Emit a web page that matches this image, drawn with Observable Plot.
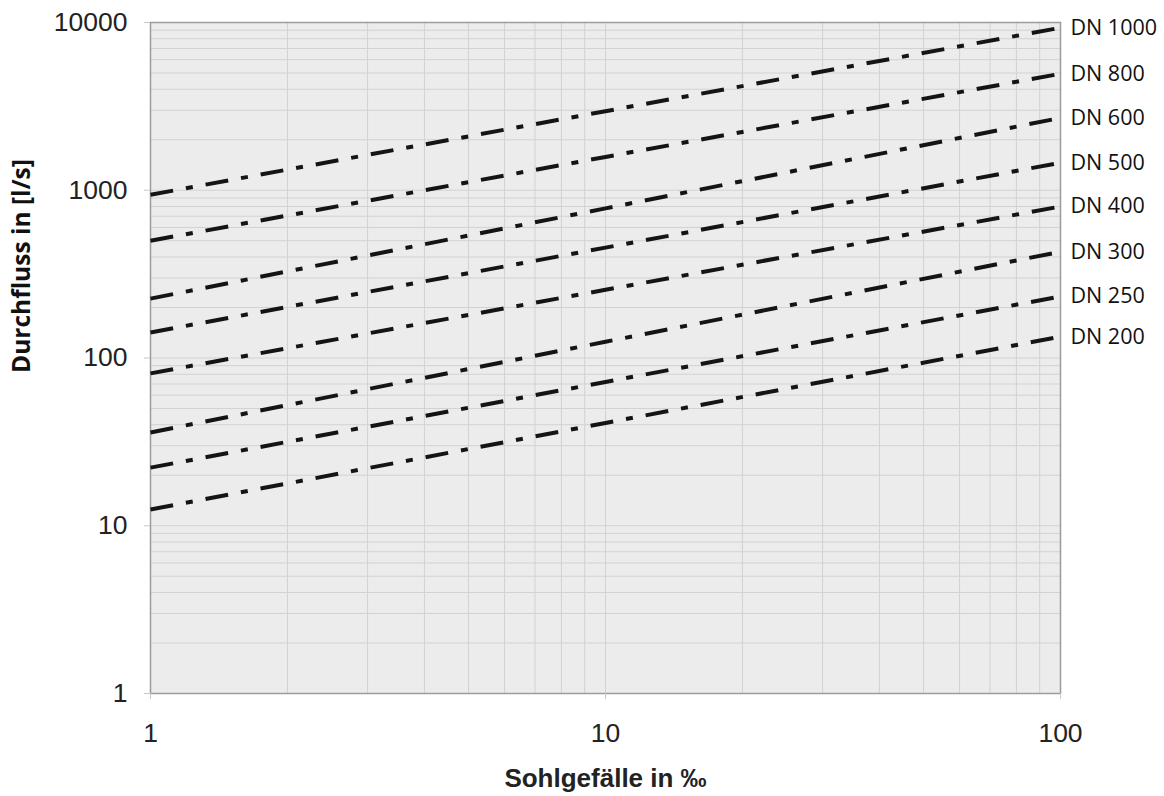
<!DOCTYPE html>
<html>
<head>
<meta charset="utf-8">
<script src="https://cdn.jsdelivr.net/npm/d3@7"></script>
<script src="https://cdn.jsdelivr.net/npm/@observablehq/plot@0.6"></script>
<style>
  html, body { margin: 0; padding: 0; background: #fff; }
</style>
</head>
<body>
<div id="chart"></div>
<script>
// Slopes (Sohlgefälle in ‰) at which the flow values were read
const slopes = [1, 10, 100];

// Flow (Durchfluss in l/s) per pipe diameter
const dn1000 = [940, 2960, 9300];
const dn800  = [500, 1580, 4950];
const dn600  = [226, 780, 2700];
const dn500  = [142, 455, 1460];
const dn400  = [81, 255, 800];
const dn300  = [36, 125, 430];
const dn250  = [22.2, 72, 233];
const dn200  = [12.5, 41, 134];

const diameters = ["DN 1000", "DN 800", "DN 600", "DN 500", "DN 400", "DN 300", "DN 250", "DN 200"];
const flows = [dn1000, dn800, dn600, dn500, dn400, dn300, dn250, dn200];

// Axis ticks
const xTicks = [1, 10, 100];
const yTicks = [1, 10, 100, 1000, 10000];
const xGrid = [2, 3, 4, 5, 6, 7, 8, 9, 10, 20, 30, 40, 50, 60, 70, 80, 90];
const yGrid = [2, 3, 4, 5, 6, 7, 8, 9, 10, 20, 30, 40, 50, 60, 70, 80, 90, 100,
               200, 300, 400, 500, 600, 700, 800, 900, 1000,
               2000, 3000, 4000, 5000, 6000, 7000, 8000, 9000];

const xTitle = "Sohlgefälle in ‰";
const yTitle = "Durchfluss in [l/s]";

const rows = diameters.flatMap((dn, j) => slopes.map((s, i) => ({dn, s, q: flows[j][i]})));

const chart = Plot.plot({
  width: 1164,
  height: 796,
  marginLeft: 150,
  marginRight: 104,
  marginTop: 22,
  marginBottom: 103,
  style: {fontFamily: "'Liberation Sans', Arial, sans-serif", background: "#fff", color: "#222"},
  x: {type: "log", domain: [1, 100]},
  y: {type: "log", domain: [1, 10000]},
  marks: [
    Plot.frame({fill: "#ececec", stroke: null}),
    Plot.ruleX(xGrid, {stroke: "#d2d2d2", strokeWidth: 1}),
    Plot.ruleY(yGrid, {stroke: "#d2d2d2", strokeWidth: 1}),
    Plot.frame({stroke: "#9c9c9c", strokeWidth: 1.5}),
    Plot.axisX({ticks: xTicks, tickFormat: d => String(d), fontSize: 26.5, tickSize: 6, tickPadding: 24,
                stroke: "#c8c8c8", fill: "#222", label: null}),
    Plot.axisY({ticks: yTicks, tickFormat: d => String(d), fontSize: 26.5, tickSize: 6, tickPadding: 17,
                stroke: "#c8c8c8", fill: "#222", label: null}),
    Plot.line(rows, {x: "s", y: "q", z: "dn", stroke: "#141414", strokeWidth: 4,
                     strokeDasharray: "23,13,7,13", strokeLinecap: "butt"}),
    Plot.text(rows, Plot.selectLast({x: "s", y: "q", z: "dn", text: "dn", textAnchor: "start", dx: 10,
                     fontSize: 21.5, fontFamily: "'Open Sans', 'Noto Sans', sans-serif", fill: "#111"})),
    Plot.text([yTitle], {frameAnchor: "left", textAnchor: "middle", lineAnchor: "middle", rotate: -90,
                     dx: -128, dy: -92, fontSize: 24.5,
                     fontWeight: "bold", fontFamily: "'Open Sans', 'Noto Sans', sans-serif", fill: "#111"}),
    Plot.text([xTitle], {frameAnchor: "bottom", lineAnchor: "middle", dy: 85, fontSize: 26,
                     fontWeight: "bold", fill: "#222"})
  ]
});
document.getElementById("chart").appendChild(chart);
</script>
</body>
</html>
